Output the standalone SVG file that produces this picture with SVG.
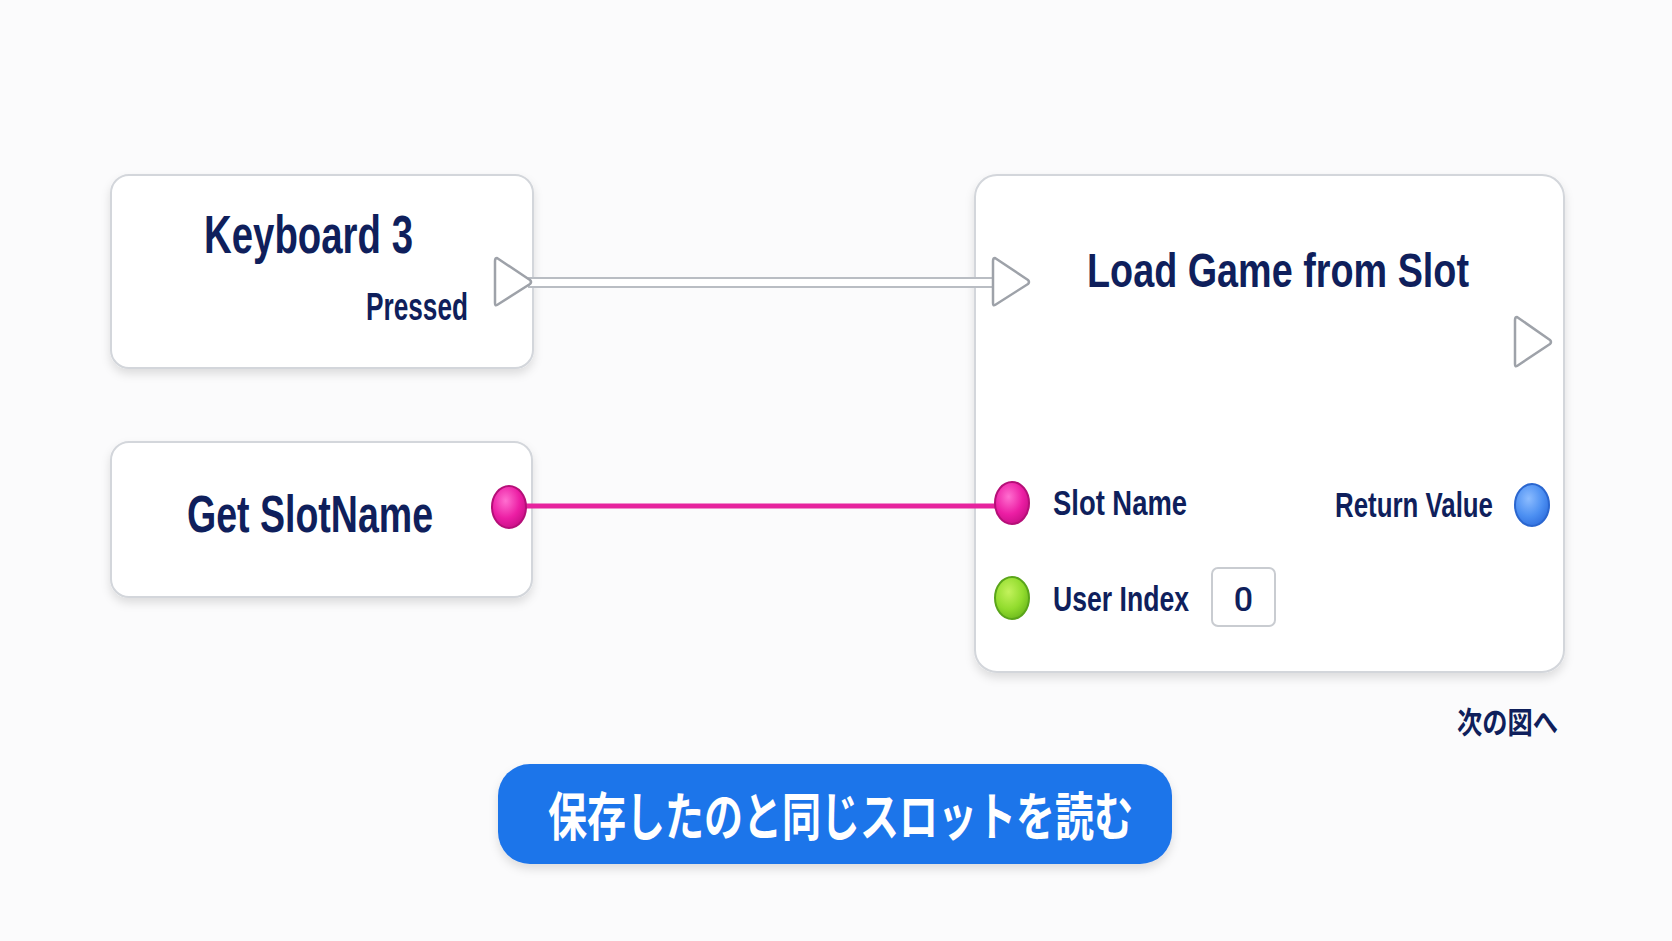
<svg xmlns="http://www.w3.org/2000/svg" width="1672" height="941" viewBox="0 0 1672 941">
  <style>
    .node { fill: #ffffff; stroke: #d3d6db; stroke-width: 2; }
    .t { font-family: "Liberation Sans", Arial, sans-serif; font-weight: bold; fill: #0f1f5c; }
    .jp { font-family: "Noto Sans CJK JP", "Noto Sans", sans-serif; font-weight: bold; }
    .exec { fill: #ffffff; stroke: #9ea2a9; stroke-width: 2.5; stroke-linejoin: round; }
  </style>
  <defs>
    <filter id="shadow" x="-10%" y="-10%" width="120%" height="130%">
      <feDropShadow dx="0" dy="5" stdDeviation="5" flood-color="#000000" flood-opacity="0.12"/>
    </filter>
    <radialGradient id="gPink" cx="0.4" cy="0.35" r="0.7">
      <stop offset="0" stop-color="#ff6fd0"/>
      <stop offset="0.6" stop-color="#ec1ea4"/>
      <stop offset="1" stop-color="#c80f86"/>
    </radialGradient>
    <radialGradient id="gGreen" cx="0.4" cy="0.35" r="0.7">
      <stop offset="0" stop-color="#c3f25c"/>
      <stop offset="0.6" stop-color="#92dc2e"/>
      <stop offset="1" stop-color="#6bb81c"/>
    </radialGradient>
    <radialGradient id="gBlue" cx="0.4" cy="0.35" r="0.7">
      <stop offset="0" stop-color="#8cbcff"/>
      <stop offset="0.6" stop-color="#4d90f2"/>
      <stop offset="1" stop-color="#2f6fde"/>
    </radialGradient>
  </defs>

  <rect x="0" y="0" width="1672" height="941" fill="#fbfbfc"/>

  <g id="node-keyboard">
    <rect class="node" x="111" y="175" width="422" height="193" rx="18" filter="url(#shadow)"/>
    <text class="t" x="204" y="253" font-size="53" textLength="209" lengthAdjust="spacingAndGlyphs">Keyboard 3</text>
    <text class="t" x="366" y="320" font-size="38" textLength="102" lengthAdjust="spacingAndGlyphs">Pressed</text>
  </g>

  <g id="node-getslotname">
    <rect class="node" x="111" y="442" width="421" height="155" rx="18" filter="url(#shadow)"/>
    <text class="t" x="187" y="532" font-size="52" textLength="246" lengthAdjust="spacingAndGlyphs">Get SlotName</text>
  </g>

  <g id="node-loadgame">
    <rect class="node" x="975" y="175" width="589" height="497" rx="22" filter="url(#shadow)"/>
    <text class="t" x="1087" y="287" font-size="49" textLength="382" lengthAdjust="spacingAndGlyphs">Load Game from Slot</text>
    <path class="exec" d="M1517,317 Q1515,317 1515,320 L1515,364 Q1515,367 1517,366 L1550,344 Q1552,342 1550,340 Z"/>
    <text class="t" x="1053" y="515" font-size="35" textLength="134" lengthAdjust="spacingAndGlyphs">Slot Name</text>
    <text class="t" x="1335" y="517" font-size="35" textLength="158" lengthAdjust="spacingAndGlyphs">Return Value</text>
    <text class="t" x="1053" y="611" font-size="35" textLength="136" lengthAdjust="spacingAndGlyphs">User Index</text>
    <rect x="1212" y="568" width="63" height="58" rx="6" fill="#ffffff" stroke="#c9ccd1" stroke-width="2"/>
    <text x="1243.5" y="611" font-family="Roboto, 'Liberation Sans', sans-serif" font-weight="500" font-size="34" fill="#0f1f5c" text-anchor="middle">0</text>
    <ellipse cx="1532" cy="505" rx="17" ry="21" fill="url(#gBlue)" stroke="#2a66cf" stroke-width="2"/>
    <ellipse cx="1012" cy="598" rx="17" ry="21" fill="url(#gGreen)" stroke="#5aa51a" stroke-width="2"/>
  </g>

  <g id="connectors">
    <rect x="529" y="278" width="466" height="9" fill="#ffffff" stroke="#b9bdc3" stroke-width="2"/>
    <path class="exec" d="M497,258 Q495,258 495,261 L495,303 Q495,306 497,305 L530,284 Q532,282 530,280 Z"/>
    <path class="exec" d="M995,258 Q993,258 993,261 L993,303 Q993,306 995,305 L1028,284 Q1030,282 1028,280 Z"/>
    <line x1="520" y1="506" x2="1004" y2="506" stroke="#e6239e" stroke-width="5"/>
    <ellipse cx="509" cy="507" rx="17" ry="21" fill="url(#gPink)" stroke="#b50f78" stroke-width="2"/>
    <ellipse cx="1012" cy="503" rx="17" ry="21" fill="url(#gPink)" stroke="#b50f78" stroke-width="2"/>
  </g>

  <g id="next-label">
    <text class="jp" x="1457" y="733" font-size="30" fill="#0f1f5c" textLength="101" lengthAdjust="spacingAndGlyphs">次の図へ</text>
  </g>

  <g id="caption">
    <rect x="498" y="764" width="674" height="100" rx="32" fill="#1f74ea" filter="url(#shadow)"/>
    <text class="jp" x="548" y="836" font-size="52" fill="#ffffff" textLength="585" lengthAdjust="spacingAndGlyphs">保存したのと同じスロットを読む</text>
  </g>
</svg>
